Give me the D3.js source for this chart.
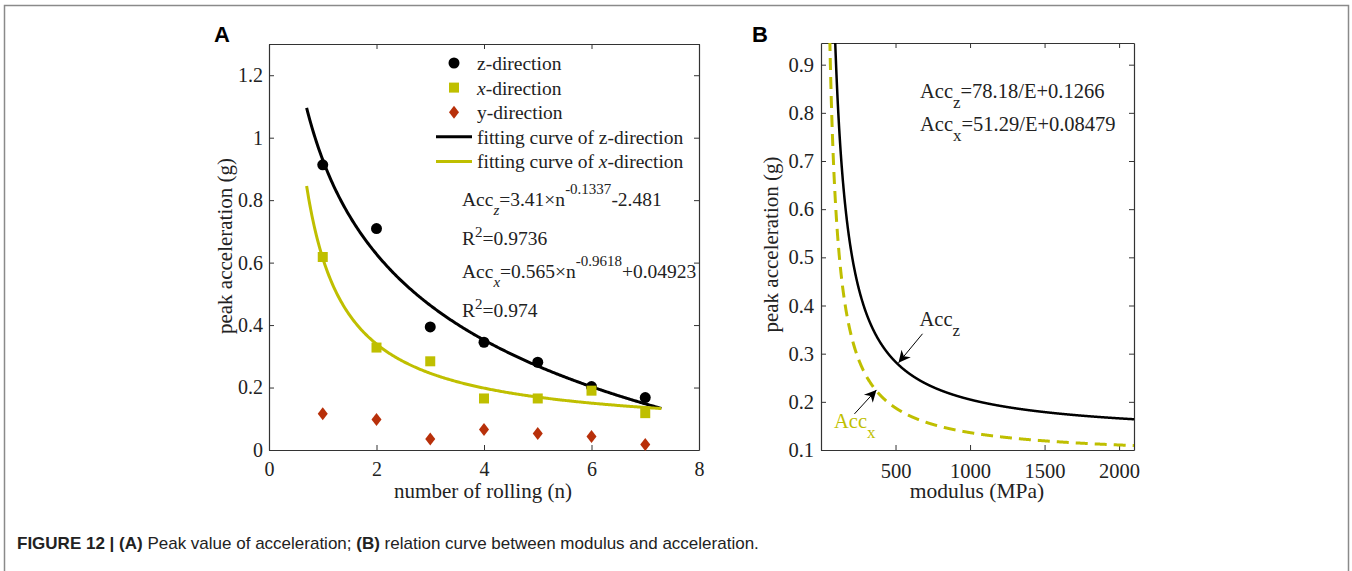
<!DOCTYPE html>
<html>
<head>
  <script src="https://d3js.org/d3.v7.min.js"></script>
  <style>
    body { margin: 0; background: #fff; }
    svg { font-family: "Liberation Serif", "Times New Roman", serif; }
    .axis path, .axis line { stroke: #333; }
    .axis text { font-size: 20px; fill: #222; font-family: "Liberation Serif", serif; }
    .b .axis text { font-size: 20.5px; }
    .lbl { font-size: 19.5px; fill: #222; }
    .title { font-size: 21px; fill: #222; }
    .eqb { font-size: 20.5px; fill: #222; }
    .panel { font-family: "Liberation Sans", Arial, sans-serif; font-weight: bold; font-size: 22px; }
    .caption { font-family: "Liberation Sans", Arial, sans-serif; font-size: 17px; fill: #222; }
  </style>
</head>
<body>
<div id="fig"></div>
<script>
// panel A: peak acceleration per rolling pass
var rolls = [1, 2, 3, 4, 5, 6, 7];
var zDir = [0.913, 0.709, 0.394, 0.345, 0.281, 0.203, 0.168];
var xDir = [0.618, 0.328, 0.284, 0.165, 0.165, 0.190, 0.118];
var yDir = [0.116, 0.098, 0.035, 0.066, 0.053, 0.043, 0.018];

// fitted power laws  a*n^b + c
var fitZ = [3.41, -0.1337, -2.481];
var fitX = [0.565, -0.9618, 0.04923];
var fitRange = [0.7, 7.3];

var xTicksA = [0, 2, 4, 6, 8];
var yTicksA = [0, 0.2, 0.4, 0.6, 0.8, 1, 1.2];

var legendItems = ["z-direction", "x-direction", "y-direction",
  "fitting curve of z-direction", "fitting curve of x-direction"];

// panel B: acceleration vs modulus,  a/E + c
var modZ = [78.18, 0.1266];
var modX = [51.29, 0.08479];
var modRange = [20, 2100];
var xTicksB = [500, 1000, 1500, 2000];
var yTicksB = [0.1, 0.2, 0.3, 0.4, 0.5, 0.6, 0.7, 0.8, 0.9];

var yellow = "#bfbf00";
var red = "#b8300a";

var svg = d3.select("#fig").append("svg")
  .attr("width", 1352)
  .attr("height", 571);

// outer frame
svg.append("path")
  .attr("d", "M4.5,580 V5.5 H1348.5 V580")
  .attr("fill", "none")
  .attr("stroke", "#8a8a8a")
  .attr("stroke-width", 1.5);

function drawAxes(g, x, y, xt, yt, w, h, padX, padY) {
  g.append("g").attr("class", "axis")
    .attr("transform", `translate(0,${h})`)
    .call(d3.axisBottom(x).tickValues(xt).tickSizeInner(-5).tickSizeOuter(0).tickPadding(padX).tickFormat(d3.format("")));
  g.append("g").attr("class", "axis")
    .call(d3.axisTop(x).tickValues(xt).tickSizeInner(-5).tickSizeOuter(0).tickFormat(""));
  g.append("g").attr("class", "axis")
    .call(d3.axisLeft(y).tickValues(yt).tickSizeInner(-5).tickSizeOuter(0).tickPadding(padY).tickFormat(d => String(d)));
  g.append("g").attr("class", "axis")
    .attr("transform", `translate(${w},0)`)
    .call(d3.axisRight(y).tickValues(yt).tickSizeInner(-5).tickSizeOuter(0).tickFormat(""));
  g.selectAll(".axis .domain").attr("stroke-width", 1.2);
}

/* ---------- Panel A ---------- */
var aL = 269, aT = 44, aW = 430, aH = 406;
var gA = svg.append("g").attr("transform", `translate(${aL},${aT})`);
var xA = d3.scaleLinear().domain([0, 8]).range([0, aW]);
var yA = d3.scaleLinear().domain([0, 1.3]).range([aH, 0]);

drawAxes(gA, xA, yA, xTicksA, yTicksA, aW, aH, 12, 6);

var ns = d3.range(fitRange[0], fitRange[1] + 0.001, 0.02);
var lineA = d3.line().x(d => xA(d[0])).y(d => yA(d[1]));
var fitCurve = f => ns.map(n => [n, f[0] * Math.pow(n, f[1]) + f[2]]);

gA.append("path").attr("d", lineA(fitCurve(fitZ)))
  .attr("fill", "none").attr("stroke", "#000").attr("stroke-width", 3);
gA.append("path").attr("d", lineA(fitCurve(fitX)))
  .attr("fill", "none").attr("stroke", yellow).attr("stroke-width", 3);

gA.selectAll(".zpt").data(rolls).enter().append("circle")
  .attr("cx", d => xA(d)).attr("cy", (d, i) => yA(zDir[i]))
  .attr("r", 5.5).attr("fill", "#000");
gA.selectAll(".xpt").data(rolls).enter().append("rect")
  .attr("x", d => xA(d) - 5).attr("y", (d, i) => yA(xDir[i]) - 5)
  .attr("width", 10).attr("height", 10).attr("fill", yellow);
gA.selectAll(".ypt").data(rolls).enter().append("path")
  .attr("transform", (d, i) => `translate(${xA(d)},${yA(yDir[i])})`)
  .attr("d", "M0,-6.5 L5,0 L0,6.5 L-5,0 Z").attr("fill", red);

// legend
var leg = gA.append("g").attr("transform", "translate(185,19)");
legendItems.forEach(function(t, i) {
  var row = leg.append("g").attr("transform", `translate(0,${i * 24.6})`);
  if (i === 0) row.append("circle").attr("r", 5.5).attr("fill", "#000");
  if (i === 1) row.append("rect").attr("x", -5).attr("y", -5).attr("width", 10).attr("height", 10).attr("fill", yellow);
  if (i === 2) row.append("path").attr("d", "M0,-6.5 L5,0 L0,6.5 L-5,0 Z").attr("fill", red);
  if (i > 2) row.append("line").attr("x1", -18).attr("x2", 18)
    .attr("stroke", i === 3 ? "#000" : yellow).attr("stroke-width", 3);
  var txt = row.append("text").attr("class", "lbl").attr("x", 23).attr("y", 7);
  var m = t.match(/^(.*?)(x)(-direction)$/);
  if (m) {
    txt.append("tspan").text(m[1]);
    txt.append("tspan").attr("font-style", "italic").text(m[2]);
    txt.append("tspan").text(m[3]);
  } else {
    txt.text(t);
  }
});

// fitted equations
function eqn(g, x, y, sub, subItalic, parts) {
  var t = g.append("text").attr("class", "lbl").attr("x", x).attr("y", y);
  t.append("tspan").text("Acc");
  t.append("tspan").attr("dy", 9).attr("font-size", 15)
    .attr("font-style", subItalic ? "italic" : null).text(sub);
  t.append("tspan").attr("dy", -9).text(parts[0]);
  if (parts.length > 1) {
    t.append("tspan").attr("dy", -12).attr("font-size", 15).text(parts[1]);
    t.append("tspan").attr("dy", 12).text(parts[2]);
  }
}
function rsq(g, x, y, val) {
  var t = g.append("text").attr("class", "lbl").attr("x", x).attr("y", y);
  t.append("tspan").text("R");
  t.append("tspan").attr("dy", -8).attr("font-size", 15).text("2");
  t.append("tspan").attr("dy", 8).text("=" + val);
}
eqn(gA, 193, 162, "z", true, ["=3.41×n", "-0.1337", "-2.481"]);
rsq(gA, 193, 201, "0.9736");
eqn(gA, 193, 234, "x", true, ["=0.565×n", "-0.9618", "+0.04923"]);
rsq(gA, 193, 273, "0.974");

gA.append("text").attr("class", "title").attr("x", aW / 2 - 1).attr("y", 454)
  .attr("text-anchor", "middle").text("number of rolling (n)");
gA.append("text").attr("class", "title")
  .attr("transform", `translate(-37,${aH / 2 - 1}) rotate(-90)`)
  .attr("text-anchor", "middle").text("peak acceleration (g)");
svg.append("text").attr("class", "panel").attr("x", 214).attr("y", 42).text("A");

/* ---------- Panel B ---------- */
var bL = 821, bT = 43, bW = 313, bH = 407;
var gB = svg.append("g").attr("class", "b").attr("transform", `translate(${bL},${bT})`);
var xB = d3.scaleLinear().domain([0, 2100]).range([0, bW]);
var yB = d3.scaleLinear().domain([0.1, 0.945]).range([bH, 0]);

svg.append("clipPath").attr("id", "clipB").append("rect")
  .attr("width", bW).attr("height", bH);

drawAxes(gB, xB, yB, xTicksB, yTicksB, bW, bH, 13, 7);

var es = d3.range(modRange[0], modRange[1] + 0.001, 1);
var lineB = d3.line().x(d => xB(d[0])).y(d => yB(d[1]));
var modCurve = f => es.map(e => [e, f[0] / e + f[1]]);

var curves = gB.append("g").attr("clip-path", "url(#clipB)");
curves.append("path").attr("d", lineB(modCurve(modX)))
  .attr("fill", "none").attr("stroke", yellow).attr("stroke-width", 3)
  .attr("stroke-dasharray", "12,7");
curves.append("path").attr("d", lineB(modCurve(modZ)))
  .attr("fill", "none").attr("stroke", "#000").attr("stroke-width", 2.5);

var t1 = gB.append("text").attr("class", "eqb").attr("x", 99).attr("y", 55);
t1.append("tspan").text("Acc");
t1.append("tspan").attr("dy", 10).attr("font-size", 17).text("z");
t1.append("tspan").attr("dy", -10).text("=78.18/E+0.1266");
var t2 = gB.append("text").attr("class", "eqb").attr("x", 99).attr("y", 88);
t2.append("tspan").text("Acc");
t2.append("tspan").attr("dy", 10).attr("font-size", 17).text("x");
t2.append("tspan").attr("dy", -10).text("=51.29/E+0.08479");

// arrows pointing at the curves
svg.append("defs").append("marker")
  .attr("id", "head").attr("viewBox", "0 0 10 10")
  .attr("refX", 10).attr("refY", 5)
  .attr("markerWidth", 14).attr("markerHeight", 12)
  .attr("markerUnits", "userSpaceOnUse")
  .attr("orient", "auto")
  .append("path").attr("d", "M0,0 L10,5 L0,10 L3,5 Z").attr("fill", "#000");

var tipZ = 520, tipX = 372;
var pz = [xB(tipZ), yB(modZ[0] / tipZ + modZ[1]) - 2];
var px = [xB(tipX), yB(modX[0] / tipX + modX[1]) - 1];
gB.append("line").attr("x1", pz[0] + 24).attr("y1", pz[1] - 29)
  .attr("x2", pz[0]).attr("y2", pz[1])
  .attr("stroke", "#000").attr("stroke-width", 1).attr("marker-end", "url(#head)");
gB.append("line").attr("x1", px[0] - 22).attr("y1", px[1] + 24)
  .attr("x2", px[0]).attr("y2", px[1])
  .attr("stroke", "#000").attr("stroke-width", 1).attr("marker-end", "url(#head)");

var lz = gB.append("text").attr("class", "eqb").attr("x", pz[0] + 21).attr("y", pz[1] - 37);
lz.append("tspan").text("Acc");
lz.append("tspan").attr("dy", 10).attr("font-size", 17).text("z");
var lx = gB.append("text").attr("class", "eqb").style("fill", yellow)
  .attr("x", 13).attr("y", px[1] + 38);
lx.append("tspan").text("Acc");
lx.append("tspan").attr("dy", 10).attr("font-size", 17).text("x");

gB.append("text").attr("class", "title").style("font-size", "21.5px")
  .attr("x", 156).attr("y", 455)
  .attr("text-anchor", "middle").text("modulus (MPa)");
gB.append("text").attr("class", "title")
  .attr("transform", `translate(-43,${bH / 2 - 2}) rotate(-90)`)
  .attr("text-anchor", "middle").text("peak acceleration (g)");
svg.append("text").attr("class", "panel").attr("x", 752).attr("y", 42).text("B");

/* ---------- caption ---------- */
var cap = svg.append("text").attr("class", "caption").attr("x", 17).attr("y", 549);
cap.append("tspan").attr("font-weight", "bold").text("FIGURE 12 | (A)");
cap.append("tspan").text(" Peak value of acceleration; ");
cap.append("tspan").attr("font-weight", "bold").text("(B)");
cap.append("tspan").text(" relation curve between modulus and acceleration.");
</script>
</body>
</html>
